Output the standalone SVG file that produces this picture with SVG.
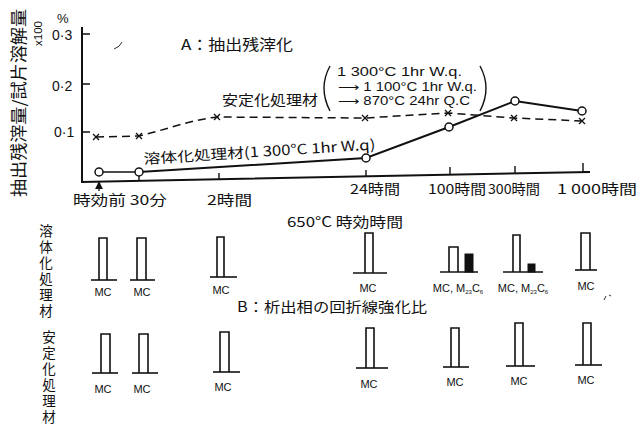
<svg xmlns="http://www.w3.org/2000/svg" width="643" height="426" viewBox="0 0 643 426">
<style>
.t{font-family:'Liberation Sans','Noto Sans CJK JP',sans-serif;fill:#111}
.j{font-family:'Noto Sans CJK JP','Liberation Sans',sans-serif;fill:#111}
.ax{stroke:#111;stroke-width:2;fill:none}
.tk{stroke:#111;stroke-width:1.4;fill:none}
.sol{stroke:#111;stroke-width:2;fill:none}
.dsh{stroke:#111;stroke-width:1.5;fill:none;stroke-dasharray:8 5}
.bar{stroke:#111;stroke-width:1.6;fill:none}
.base{stroke:#111;stroke-width:1.6}
.fill{fill:#111;stroke:#111;stroke-width:1}
.mc{font-family:'Liberation Sans',sans-serif;font-size:11px;fill:#111;text-anchor:middle}
.xl{font-size:13.5px}
.vl{font-size:13.5px;writing-mode:vertical-rl;letter-spacing:2.5px}
</style>
<defs>
<circle id="oc" r="4" fill="#fff" stroke="#111" stroke-width="1.5"/>
<path id="xm" d="M-3,-3 L3,3 M3,-3 L-3,3" stroke="#111" stroke-width="1.3" fill="none"/>
<marker id="ah" viewBox="0 0 8 8" refX="4" refY="4" markerWidth="6" markerHeight="6" orient="auto"><path d="M0,0 L8,4 L0,8 Z" fill="#111"/></marker>
</defs>

<!-- axes -->
<g id="axes">
<path class="ax" d="M82,27 V182 L590,172"/>
<path class="tk" d="M82,34 H90 M82,84 H90 M82,132 H90"/>
<path class="tk" d="M139,176 V181 M219,173 V179 M366,170 V176 M450,167 V175 M515,166 V173 M583,163 V172 M583,172 H588"/>
<line x1="99" y1="191" x2="99" y2="185" stroke="#111" stroke-width="1.3" marker-end="url(#ah)"/>
</g>
<g id="axis-labels">
<text class="j" font-size="16.5" transform="translate(25,197) rotate(-90)" textLength="188" lengthAdjust="spacingAndGlyphs">抽出残滓量/試片溶解量</text>
<text class="t" font-size="11.5" transform="translate(42,46) rotate(-90)">x100</text>
<text class="t" font-size="13" x="57" y="23">%</text>
<text class="t" font-size="14" x="52" y="40">0·3</text>
<text class="t" font-size="14" x="52" y="91">0·2</text>
<text class="t" font-size="14" x="54" y="137">0·1</text>
<text class="j xl" x="73" y="205" textLength="94" lengthAdjust="spacingAndGlyphs">時効前 30分</text>
<text class="j xl" x="207" y="205" textLength="45" lengthAdjust="spacingAndGlyphs">2時間</text>
<text class="j xl" x="350" y="194" textLength="50" lengthAdjust="spacingAndGlyphs">24時間</text>
<text class="j xl" x="428" y="194" textLength="58" lengthAdjust="spacingAndGlyphs">100時間</text>
<text class="j xl" x="488" y="194" textLength="52" lengthAdjust="spacingAndGlyphs">300時間</text>
<text class="j xl" x="557" y="194" textLength="80" lengthAdjust="spacingAndGlyphs">1 000時間</text>
<text class="j" font-size="14" x="287" y="227" textLength="116" lengthAdjust="spacingAndGlyphs">650°C 時効時間</text>
</g>

<g id="title-a"><text class="j" font-size="15" x="181" y="50" textLength="112" lengthAdjust="spacingAndGlyphs">A：抽出残滓化</text></g>

<g id="legend-stab">
<text class="j" font-size="14" x="222" y="105" textLength="96" lengthAdjust="spacingAndGlyphs">安定化処理材</text>
<path d="M330,66 Q318,88 330,111" stroke="#111" stroke-width="1.4" fill="none"/>
<path d="M480,66 Q492,88 480,111" stroke="#111" stroke-width="1.4" fill="none"/>
<text class="t" font-size="12" x="337" y="76" textLength="125" lengthAdjust="spacingAndGlyphs">1 300°C 1hr W.q.</text>
<text class="t" font-size="12" x="338" y="91" textLength="139" lengthAdjust="spacingAndGlyphs">⟶ 1 100°C 1hr W.q.</text>
<text class="t" font-size="12" x="338" y="105" textLength="132" lengthAdjust="spacingAndGlyphs">⟶  870°C 24hr Q.C</text>
</g>

<g id="label-sol">
<text class="j" font-size="14" transform="translate(144,164) rotate(-3.6)" textLength="232" lengthAdjust="spacingAndGlyphs">溶体化処理材(1 300°C 1hr W.q)</text>
</g>

<!-- connectors -->
<g id="connectors">
<path class="dsh" d="M96,137 L139,136 C165,130 190,120 217,117 L365,118 L448,113 L514,118 L582,121"/>
<path stroke="#111" stroke-width="1.3" fill="none" d="M99,172 L139,172"/>
<path class="sol" d="M139,172 L366,158 L449,127 L515,101 L582,111"/>
</g>

<g id="points-stab">
<use href="#xm" x="96" y="137"/><use href="#xm" x="139" y="136"/><use href="#xm" x="217" y="117"/>
<use href="#xm" x="365" y="118"/><use href="#xm" x="448" y="113"/><use href="#xm" x="514" y="118"/><use href="#xm" x="582" y="121"/>
</g>
<g id="points-sol">
<use href="#oc" x="99" y="172"/><use href="#oc" x="139" y="172"/><use href="#oc" x="366" y="158"/>
<use href="#oc" x="449" y="127"/><use href="#oc" x="515" y="101"/><use href="#oc" x="582" y="111"/>
</g>

<!-- row labels -->
<g id="row-a-label"><text class="j vl" x="46" y="224">溶体化処理材</text></g>
<g id="row-b-label"><text class="j vl" x="49" y="330">安定化処理材</text></g>

<g id="title-b"><text class="j" font-size="14" x="237" y="312" textLength="190" lengthAdjust="spacingAndGlyphs">B：析出相の回折線強化比</text></g>

<!-- row A bars -->
<g id="a1"><path class="bar" d="M99,280 V238 H107 V280"/><line class="base" x1="91" y1="280" x2="117" y2="280"/><text class="mc" x="103" y="296">MC</text></g>
<g id="a2"><path class="bar" d="M137,280 V238 H146 V280"/><line class="base" x1="130" y1="280" x2="155" y2="280"/><text class="mc" x="142" y="296">MC</text></g>
<g id="a3"><path class="bar" d="M217,277 V237 H224 V277"/><line class="base" x1="210" y1="277" x2="237" y2="277"/><text class="mc" x="221" y="294">MC</text></g>
<g id="a4"><path class="bar" d="M365,273 V233 H373 V273"/><line class="base" x1="353" y1="273" x2="387" y2="273"/><text class="mc" x="368" y="292">MC</text></g>
<g id="a5"><path class="bar" d="M449,272 V247 H458 V272"/><rect class="fill" x="465" y="254" width="8" height="18"/><line class="base" x1="440" y1="272" x2="478" y2="272"/><text class="mc" x="458" y="292" font-size="10">MC, M<tspan font-size="6" dy="2">23</tspan><tspan dy="-2">C</tspan><tspan font-size="6" dy="2">6</tspan></text></g>
<g id="a6"><path class="bar" d="M513,272 V235 H520 V272"/><rect class="fill" x="528" y="264" width="7" height="8"/><line class="base" x1="503" y1="272" x2="543" y2="272"/><text class="mc" x="523" y="292" font-size="10">MC, M<tspan font-size="6" dy="2">23</tspan><tspan dy="-2">C</tspan><tspan font-size="6" dy="2">6</tspan></text></g>
<g id="a7"><path class="bar" d="M581,270 V233 H590 V270"/><line class="base" x1="575" y1="270" x2="597" y2="270"/><text class="mc" x="586" y="290">MC</text></g>

<!-- row B bars -->
<g id="b1"><path class="bar" d="M101,373 V334 H110 V373"/><line class="base" x1="92" y1="373" x2="118" y2="373"/><text class="mc" x="103" y="393">MC</text></g>
<g id="b2"><path class="bar" d="M139,373 V334 H148 V373"/><line class="base" x1="132" y1="373" x2="158" y2="373"/><text class="mc" x="142" y="393">MC</text></g>
<g id="b3"><path class="bar" d="M220,372 V332 H229 V372"/><line class="base" x1="213" y1="372" x2="240" y2="372"/><text class="mc" x="223" y="391">MC</text></g>
<g id="b4"><path class="bar" d="M366,368 V328 H374 V368"/><line class="base" x1="356" y1="368" x2="388" y2="368"/><text class="mc" x="369" y="388">MC</text></g>
<g id="b5"><path class="bar" d="M451,367 V328 H459 V367"/><line class="base" x1="443" y1="367" x2="469" y2="367"/><text class="mc" x="455" y="386">MC</text></g>
<g id="b6"><path class="bar" d="M515,366 V323 H523 V366"/><line class="base" x1="506" y1="366" x2="535" y2="366"/><text class="mc" x="519" y="385">MC</text></g>
<g id="b7"><path class="bar" d="M583,365 V323 H591 V365"/><line class="base" x1="575" y1="365" x2="602" y2="365"/><text class="mc" x="586" y="384">MC</text></g>

<!-- scan marks -->
<g id="marks" stroke="#333" stroke-width="1" fill="none">
<path d="M114,49 Q120,47 122,42"/>
<path d="M604,300 L606,296 M609,295 L611,296"/>
</g>
</svg>
